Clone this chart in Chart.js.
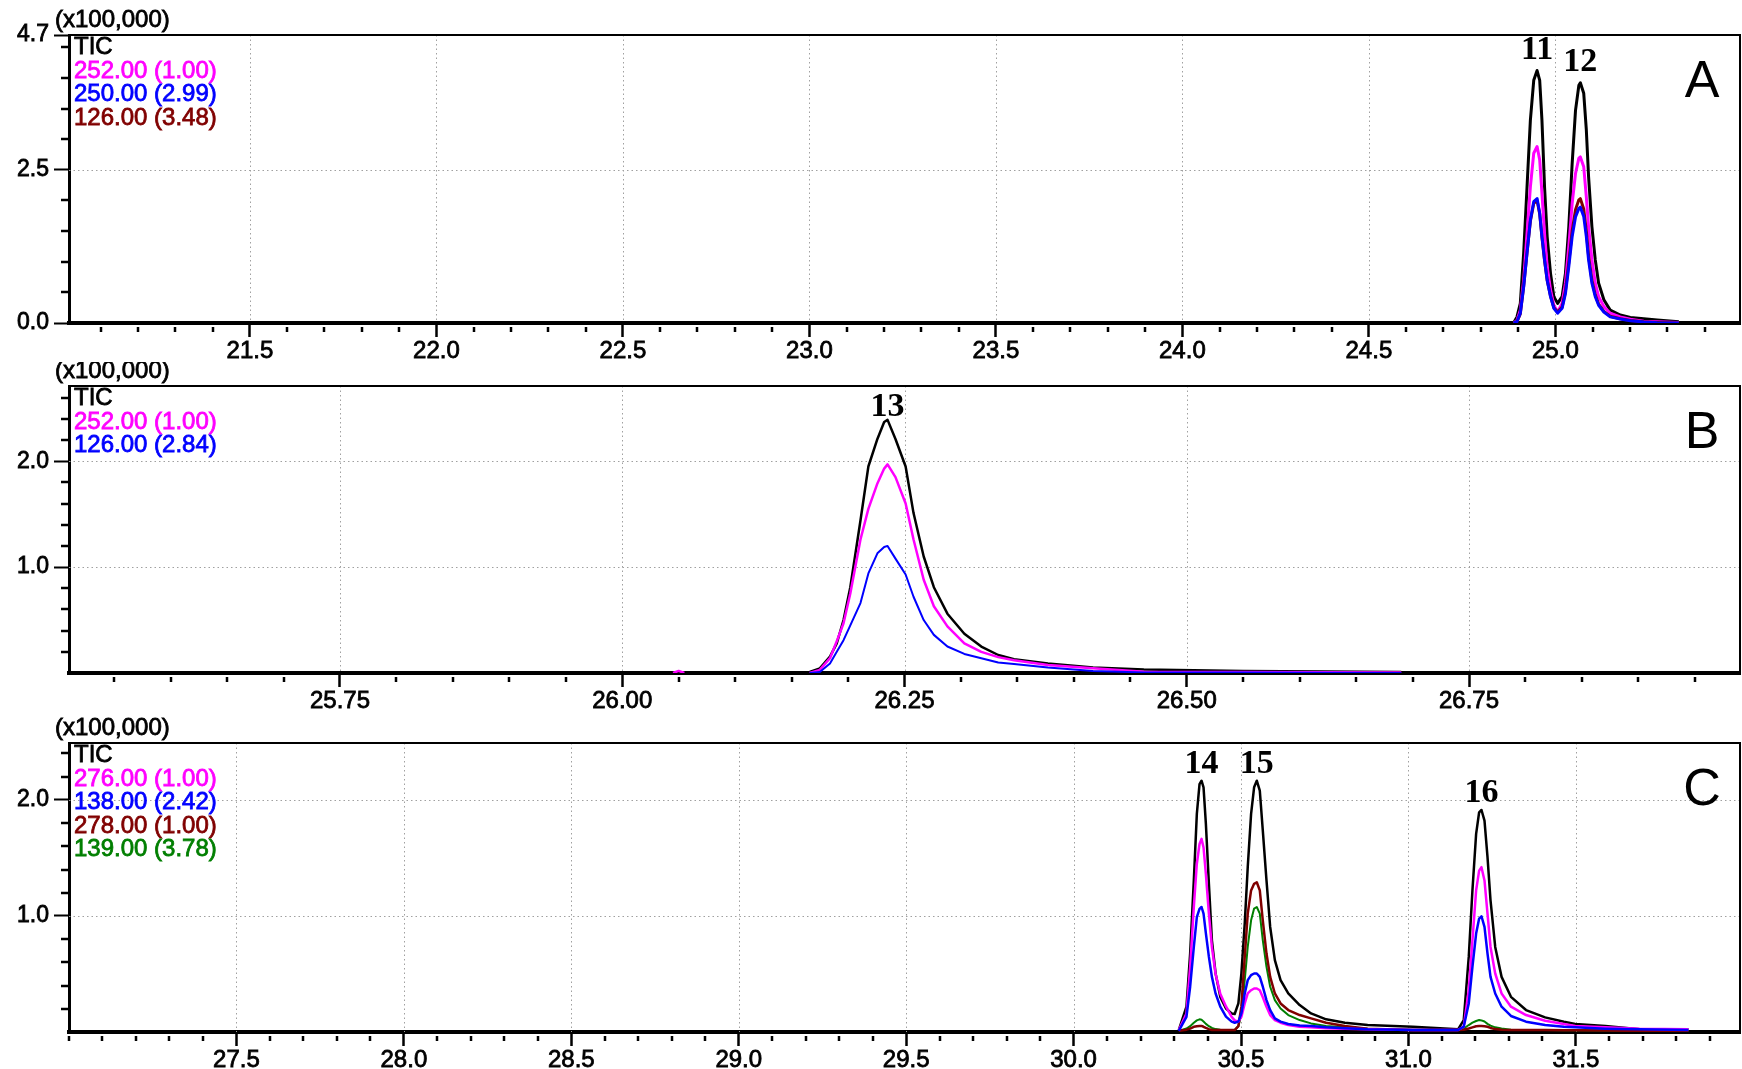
<!DOCTYPE html>
<html>
<head>
<meta charset="utf-8">
<title>Chromatograms A-C</title>
<script src="https://cdn.jsdelivr.net/npm/chart.js@4.4.1/dist/chart.umd.min.js"></script>
<style>
  html, body { margin: 0; padding: 0; background: #fff; }
  body { width: 1742px; height: 1069px; position: relative; overflow: hidden; }
  .panel { position: absolute; left: 0; width: 1742px; }
</style>
</head>
<body>
<div class="panel" style="top:0;height:362px"><canvas id="panelA" width="1742" height="362"></canvas></div>
<div class="panel" style="top:362px;height:348px"><canvas id="panelB" width="1742" height="348"></canvas></div>
<div class="panel" style="top:710px;height:359px"><canvas id="panelC" width="1742" height="359"></canvas></div>
<script>
// retention time (min) and intensity (x100,000)

// --- panel A ---
const timeA = [24.888, 24.897, 24.906, 24.915, 24.924, 24.933, 24.942, 24.951, 24.958, 24.964, 24.971, 24.978, 24.987, 24.996, 25.006, 25.018, 25.027, 25.036, 25.045, 25.054, 25.063, 25.067, 25.076, 25.083, 25.089, 25.098, 25.107, 25.116, 25.130, 25.147, 25.174, 25.201, 25.237, 25.273, 25.331];
const ticA    = [0, 0.10, 0.32, 1.14, 2.22, 3.31, 3.96, 4.12, 3.96, 3.31, 2.22, 1.41, 0.81, 0.43, 0.32, 0.43, 0.81, 1.57, 2.60, 3.47, 3.88, 3.92, 3.75, 3.15, 2.39, 1.57, 1.03, 0.65, 0.38, 0.21, 0.13, 0.09, 0.07, 0.05, 0.02];
const ion252A = [0, 0.04, 0.21, 0.70, 1.46, 2.22, 2.77, 2.88, 2.66, 2.12, 1.46, 0.92, 0.54, 0.29, 0.18, 0.32, 0.65, 1.25, 1.95, 2.44, 2.69, 2.71, 2.55, 2.06, 1.57, 1.03, 0.65, 0.43, 0.27, 0.16, 0.10, 0.06, 0.03, 0.02, 0.01];
const ion250A = [0, 0.02, 0.16, 0.59, 1.14, 1.68, 1.98, 2.03, 1.79, 1.41, 1.03, 0.70, 0.43, 0.24, 0.16, 0.24, 0.48, 0.92, 1.41, 1.73, 1.87, 1.89, 1.74, 1.41, 1.03, 0.65, 0.43, 0.29, 0.18, 0.10, 0.065, 0.038, 0.016, 0.005, 0];
const ion126A = [0, 0.02, 0.15, 0.60, 1.15, 1.66, 1.95, 2.00, 1.78, 1.40, 1.02, 0.70, 0.44, 0.25, 0.18, 0.26, 0.52, 0.99, 1.50, 1.85, 2.01, 2.03, 1.86, 1.50, 1.10, 0.70, 0.46, 0.31, 0.19, 0.11, 0.07, 0.04, 0.02, 0.01, 0];
const xTicksA = [21.5, 22.0, 22.5, 23.0, 23.5, 24.0, 24.5, 25.0];
const yTicksA = [0.0, 2.5, 4.7];
const peakNamesA = ['11', '12'];
const peakTimesA = [24.951, 25.067];

// --- panel B ---
const timeB = [26.045, 26.050, 26.055, 26.100, 26.166, 26.175, 26.184, 26.190, 26.196, 26.202, 26.211, 26.218, 26.226, 26.232, 26.235, 26.242, 26.251, 26.258, 26.267, 26.276, 26.288, 26.303, 26.318, 26.333, 26.347, 26.377, 26.417, 26.462, 26.550, 26.690];
const ticB    = [null, null, null, null, 0.01, 0.044, 0.154, 0.28, 0.50, 0.81, 1.44, 1.95, 2.21, 2.37, 2.39, 2.21, 1.95, 1.51, 1.10, 0.81, 0.56, 0.37, 0.25, 0.17, 0.13, 0.09, 0.053, 0.034, 0.02, 0.01];
const ion252B = [0, 0.02, 0, null, 0, 0.03, 0.14, 0.30, 0.47, 0.75, 1.26, 1.55, 1.79, 1.93, 1.97, 1.85, 1.60, 1.26, 0.88, 0.63, 0.44, 0.28, 0.20, 0.15, 0.12, 0.075, 0.044, 0.012, 0.01, 0.005];
const ion126B = [null, null, null, null, 0, 0.01, 0.09, 0.20, 0.31, 0.45, 0.66, 0.94, 1.13, 1.19, 1.20, 1.08, 0.93, 0.72, 0.50, 0.36, 0.25, 0.18, 0.14, 0.10, 0.085, 0.053, 0.02, 0.005, 0.005, 0];
const xTicksB = [25.75, 26.00, 26.25, 26.50, 26.75];
const yTicksB = [1.0, 2.0];
const peakNamesB = ['13'];
const peakTimesB = [26.235];

// --- panel C ---
const timeC = [30.314, 30.337, 30.348, 30.359, 30.368, 30.376, 30.382, 30.388, 30.395, 30.404, 30.413, 30.424, 30.438, 30.455, 30.472, 30.481, 30.492, 30.501, 30.511, 30.520, 30.530, 30.539, 30.547, 30.556, 30.565, 30.576, 30.587, 30.601, 30.618, 30.641, 30.675, 30.709, 30.754, 30.810, 30.878, 31.013, 31.148, 31.165, 31.180, 31.191, 31.202, 31.211, 31.218, 31.227, 31.236, 31.245, 31.259, 31.278, 31.306, 31.351, 31.408, 31.464, 31.498, 31.588, 31.690, 31.836];
const ticC    = [0.017, 0.218, 0.676, 1.306, 1.879, 2.136, 2.165, 2.108, 1.793, 1.277, 0.79, 0.504, 0.303, 0.203, 0.16, 0.155, 0.246, 0.504, 0.934, 1.42, 1.879, 2.108, 2.165, 2.079, 1.735, 1.306, 0.905, 0.619, 0.447, 0.332, 0.232, 0.16, 0.109, 0.08, 0.06, 0.046, 0.023, 0.103, 0.647, 1.22, 1.707, 1.893, 1.913, 1.821, 1.506, 1.134, 0.733, 0.475, 0.303, 0.189, 0.126, 0.089, 0.069, 0.052, 0.023, 0.023];
const ion276C = [0.017, 0.16, 0.56, 1.077, 1.45, 1.62, 1.664, 1.59, 1.36, 1.02, 0.73, 0.50, 0.33, 0.22, 0.13, 0.10, 0.089, 0.13, 0.246, 0.332, 0.36, 0.375, 0.375, 0.36, 0.30, 0.218, 0.146, 0.103, 0.08, 0.06, 0.046, 0.04, 0.032, 0.029, 0.023, 0.017, 0.017, 0.046, 0.361, 0.79, 1.22, 1.39, 1.42, 1.306, 1.02, 0.733, 0.504, 0.332, 0.218, 0.146, 0.097, 0.069, 0.052, 0.04, 0.029, 0.023];
const ion138C = [0.01, 0.131, 0.39, 0.733, 0.99, 1.06, 1.077, 1.02, 0.85, 0.647, 0.475, 0.332, 0.218, 0.132, 0.089, 0.08, 0.089, 0.16, 0.332, 0.447, 0.49, 0.504, 0.504, 0.475, 0.39, 0.275, 0.189, 0.117, 0.089, 0.069, 0.057, 0.052, 0.04, 0.032, 0.023, 0.017, 0.017, 0.046, 0.246, 0.561, 0.848, 0.977, 0.997, 0.905, 0.676, 0.475, 0.332, 0.218, 0.138, 0.089, 0.06, 0.046, 0.04, 0.029, 0.023, 0.017];
const ion278C = [0.01, 0.02, 0.03, 0.045, 0.05, 0.052, 0.052, 0.045, 0.035, 0.025, 0.017, 0.017, 0.017, 0.017, 0.017, 0.017, 0.05, 0.218, 0.647, 1.02, 1.22, 1.277, 1.29, 1.22, 0.96, 0.676, 0.475, 0.332, 0.246, 0.189, 0.146, 0.117, 0.08, 0.052, 0.029, 0.017, 0.017, 0.02, 0.03, 0.04, 0.05, 0.052, 0.052, 0.05, 0.045, 0.035, 0.025, 0.02, 0.017, 0.017, 0.017, 0.015, 0.015, 0.012, 0.01, 0.008];
const ion139C = [0.01, 0.03, 0.05, 0.08, 0.10, 0.109, 0.105, 0.09, 0.07, 0.05, 0.035, 0.025, 0.02, 0.017, 0.017, 0.017, 0.05, 0.16, 0.447, 0.733, 0.962, 1.063, 1.077, 1.02, 0.79, 0.562, 0.39, 0.275, 0.203, 0.146, 0.103, 0.074, 0.052, 0.04, 0.029, 0.02, 0.017, 0.03, 0.06, 0.08, 0.095, 0.103, 0.10, 0.09, 0.07, 0.055, 0.04, 0.03, 0.02, 0.017, 0.017, 0.015, 0.015, 0.012, 0.01, 0.008];
const xTicksC = [27.5, 28.0, 28.5, 29.0, 29.5, 30.0, 30.5, 31.0, 31.5];
const yTicksC = [1.0, 2.0];
const peakNamesC = ['14', '15', '16'];
const peakTimesC = [30.382, 30.547, 31.218];

const MAGENTA = '#ff00ff', BLUE = '#0000ff', BROWN = '#800000', GREEN = '#007f00';
const SANS = 'Arial, "Liberation Sans", sans-serif';

Chart.defaults.font.family = SANS;
Chart.defaults.color = '#000';

const toPoints = (times, values) => times.map((t, i) => ({x: t, y: values[i]}));

let series = function(label, times, values, color, width, order) {
    return {
        label: label,
        data: toPoints(times, values),
        borderColor: color,
        backgroundColor: color,
        borderWidth: width,
        borderJoinStyle: 'round',
        pointRadius: 0,
        tension: 0,
        spanGaps: false,
        fill: false,
        order: order
    };
};

const isMajor = (list, v) => list.some(t => Math.abs(t - v) < 1e-6);

// text with a thin outline so it reads as heavy as the scanned labels
let heavyText = function(ctx, text, x, y, color) {
    ctx.fillStyle = color;
    ctx.strokeStyle = color;
    ctx.lineWidth = 0.8;
    ctx.fillText(text, x, y);
    ctx.strokeText(text, x, y);
};

// dotted grid, minor ticks, frame, legend text and labels
const decor = (p) => ({
    id: 'decor' + p.letter,
    beforeDatasetsDraw(chart) {
        const {ctx, chartArea: a, scales: {x, y}} = chart;
        ctx.save();
        ctx.strokeStyle = '#a0a0a0';
        ctx.lineWidth = 1;
        ctx.setLineDash([1.5, 3]);
        ctx.beginPath();
        p.xTicks.forEach(v => {
            const px = Math.round(x.getPixelForValue(v)) + 0.5;
            ctx.moveTo(px, a.top);
            ctx.lineTo(px, a.bottom);
        });
        p.yGrid.forEach(v => {
            const py = Math.round(y.getPixelForValue(v)) + 0.5;
            ctx.moveTo(a.left, py);
            ctx.lineTo(a.right, py);
        });
        ctx.stroke();
        ctx.setLineDash([]);

        ctx.strokeStyle = '#000';
        ctx.lineWidth = 2.5;
        ctx.beginPath();
        for (let k = Math.ceil(x.min / p.xMinor); k * p.xMinor < x.max; k++) {
            const v = k * p.xMinor;
            if (isMajor(p.xTicks, v)) continue;
            const px = Math.round(x.getPixelForValue(v));
            ctx.moveTo(px, a.bottom + 4);
            ctx.lineTo(px, a.bottom + 9);
        }
        for (let k = 1; k * p.yMinor < y.max - 1e-6; k++) {
            const v = k * p.yMinor;
            if (isMajor(p.yTicks, v)) continue;
            const py = Math.round(y.getPixelForValue(v));
            ctx.moveTo(a.left - 8, py);
            ctx.lineTo(a.left, py);
        }
        ctx.stroke();
        ctx.restore();
    },
    afterDatasetsDraw(chart) {
        const {ctx, chartArea: a, scales: {x, y}} = chart;
        ctx.save();
        // top and right frame
        ctx.strokeStyle = '#000';
        ctx.lineWidth = 2;
        ctx.beginPath();
        ctx.moveTo(a.left, a.top);
        ctx.lineTo(a.right, a.top);
        ctx.lineTo(a.right, a.bottom);
        ctx.stroke();

        // legend, one line per dataset
        ctx.font = '24px ' + SANS;
        ctx.textAlign = 'left';
        ctx.textBaseline = 'alphabetic';
        chart.data.datasets.forEach((ds, i) => {
            heavyText(ctx, ds.label, a.left + 5, a.top + 19 + i * 23.5, ds.borderColor);
        });

        heavyText(ctx, '(x100,000)', a.left - 14, a.top - 8, '#000');

        ctx.font = '52px ' + SANS;
        ctx.textAlign = 'center';
        ctx.fillStyle = '#000';
        ctx.fillText(p.letter, a.right - 38, a.top + 62);

        // peak numbers over the TIC apex
        ctx.font = 'bold 34px "Times New Roman", "Liberation Serif", serif';
        p.peakNames.forEach((name, i) => {
            let best = 0;
            p.times.forEach((t, j) => {
                if (Math.abs(t - p.peakTimes[i]) < Math.abs(p.times[best] - p.peakTimes[i])) best = j;
            });
            const px = x.getPixelForValue(p.times[best]);
            const py = y.getPixelForValue(p.tic[best]);
            ctx.fillText(name, px, py - p.labelGap);
        });
        ctx.restore();
    }
});

let makePanel = function(canvasId, p) {
    return new Chart(document.getElementById(canvasId), {
        type: 'line',
        data: { datasets: p.datasets },
        options: {
            responsive: false,
            maintainAspectRatio: false,
            devicePixelRatio: 1,
            animation: false,
            events: [],
            layout: { padding: { top: p.padTop, right: 2, left: 0, bottom: 0 } },
            plugins: { legend: { display: false }, tooltip: { enabled: false } },
            scales: {
                x: {
                    type: 'linear',
                    min: p.xMin,
                    max: p.xMax,
                    afterBuildTicks: s => { s.ticks = p.xTicks.map(v => ({value: v})); },
                    afterFit: s => { s.height = p.xHeight; },
                    ticks: {
                        autoSkip: false,
                        maxRotation: 0,
                        padding: 0,
                        color: '#000',
                        textStrokeColor: '#000',
                        textStrokeWidth: 0.8,
                        font: { size: 24 },
                        callback: v => v.toFixed(p.xDigits)
                    },
                    grid: { drawOnChartArea: false, drawTicks: true, tickLength: 14, tickWidth: 2.5, tickColor: '#000' },
                    border: { display: true, color: '#000', width: 4 }
                },
                y: {
                    type: 'linear',
                    min: 0,
                    max: p.yMax,
                    afterBuildTicks: s => { s.ticks = p.yTicks.map(v => ({value: v})); },
                    afterFit: s => { s.width = 69; },
                    ticks: {
                        autoSkip: false,
                        padding: 5,
                        color: '#000',
                        textStrokeColor: '#000',
                        textStrokeWidth: 0.8,
                        font: { size: 23 },
                        callback: v => v.toFixed(1)
                    },
                    grid: { drawOnChartArea: false, drawTicks: true, tickLength: 15, tickWidth: 2, tickColor: '#000' },
                    border: { display: true, color: '#000', width: 3 }
                }
            }
        },
        plugins: [decor(p)]
    });
};

makePanel('panelA', {
    letter: 'A', padTop: 35, xHeight: 39,
    xMin: 21.015, xMax: 25.495, yMax: 4.7, xDigits: 1,
    xTicks: xTicksA, yTicks: yTicksA, yGrid: [2.5], xMinor: 0.1, yMinor: 0.5,
    times: timeA, tic: ticA, peakNames: peakNamesA, peakTimes: peakTimesA, labelGap: 12,
    datasets: [
        series('TIC', timeA, ticA, '#000000', 3, 4),
        series('252.00 (1.00)', timeA, ion252A, MAGENTA, 3, 3),
        series('250.00 (2.99)', timeA, ion250A, BLUE, 3, 1),
        series('126.00 (3.48)', timeA, ion126A, BROWN, 3, 2)
    ]
});

makePanel('panelB', {
    letter: 'B', padTop: 24, xHeight: 37,
    xMin: 25.51, xMax: 26.99, yMax: 2.71, xDigits: 2,
    xTicks: xTicksB, yTicks: yTicksB, yGrid: [1.0, 2.0], xMinor: 0.05, yMinor: 0.2,
    times: timeB, tic: ticB, peakNames: peakNamesB, peakTimes: peakTimesB, labelGap: 4,
    datasets: [
        series('TIC', timeB, ticB, '#000000', 2.5, 3),
        series('252.00 (1.00)', timeB, ion252B, MAGENTA, 2.5, 2),
        series('126.00 (2.84)', timeB, ion126B, BLUE, 2, 1)
    ]
});

makePanel('panelC', {
    letter: 'C', padTop: 33, xHeight: 37,
    xMin: 27.0, xMax: 31.99, yMax: 2.49, xDigits: 1,
    xTicks: xTicksC, yTicks: yTicksC, yGrid: [1.0, 2.0], xMinor: 0.1, yMinor: 0.2,
    times: timeC, tic: ticC, peakNames: peakNamesC, peakTimes: peakTimesC, labelGap: 8,
    datasets: [
        series('TIC', timeC, ticC, '#000000', 2.5, 5),
        series('276.00 (1.00)', timeC, ion276C, MAGENTA, 2.5, 2),
        series('138.00 (2.42)', timeC, ion138C, BLUE, 2.5, 1),
        series('278.00 (1.00)', timeC, ion278C, BROWN, 2.5, 3),
        series('139.00 (3.78)', timeC, ion139C, GREEN, 2, 4)
    ]
});
</script>
</body>
</html>
